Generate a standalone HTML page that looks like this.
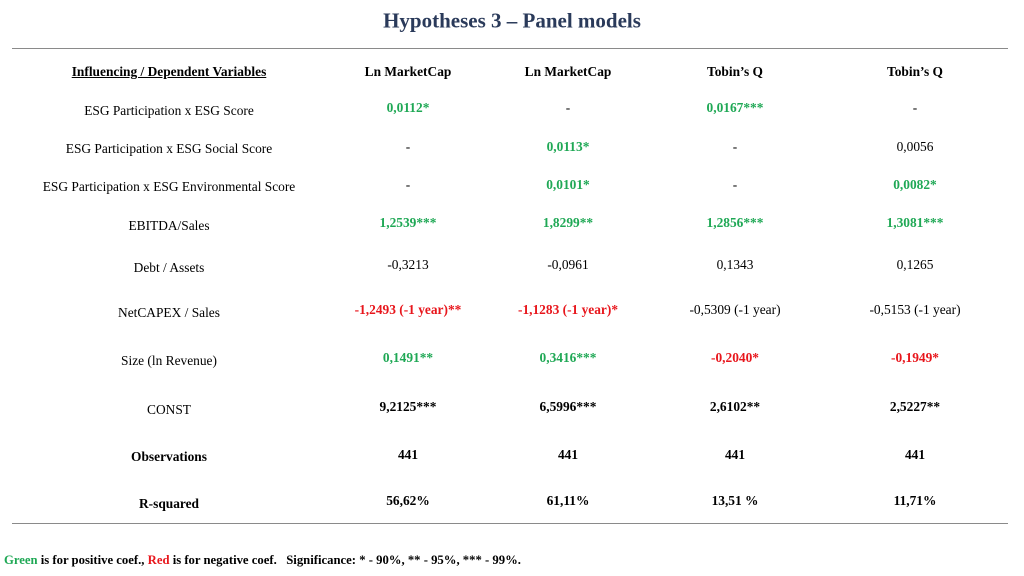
<!DOCTYPE html>
<html><head><meta charset="utf-8">
<style>
body{margin:0;width:1024px;height:576px;background:#fff;position:relative;overflow:hidden;font-family:"Liberation Serif",serif;color:#000}
.t{position:absolute;transform:translate(-50%,-50%);white-space:nowrap;font-size:13.4px}
.b{font-weight:bold}
.g{color:#1fa855}.r{color:#e8161c}
.line{position:absolute;left:12px;width:996px;height:1px;background:#8a8a8a}
</style></head><body>
<div class="t b" style="left:512px;top:21px;font-size:21px;color:#2a3a5a">Hypotheses 3 – Panel models</div>
<div class="line" style="top:48px"></div>
<div class="line" style="top:523px"></div>
<div style="position:absolute;left:4px;top:553px;font-size:12.7px;font-weight:bold;white-space:nowrap"><span class="g">Green</span> is for positive coef., <span class="r">Red</span> is for negative coef.&nbsp;&nbsp; Significance: * - 90%, ** - 95%, *** - 99%.</div>
<div id="tbl"></div>
<script>
const colX=[169,408,568,735,915];
const headers=["Influencing / Dependent Variables","Ln MarketCap","Ln MarketCap","Tobin’s Q","Tobin’s Q"];
const rowLabels=["ESG Participation x ESG Score","ESG Participation x ESG Social Score","ESG Participation x ESG Environmental Score","EBITDA/Sales","Debt / Assets","NetCAPEX / Sales","Size (ln Revenue)","CONST","Observations","R-squared"];
const labelY=[111,149,187,226,268,313,361,410,457,504];
const valueY=[108,147,185,223,265,310,358,407,455,501];
const values=[
["0,0112*","-","0,0167***","-"],
["-","0,0113*","-","0,0056"],
["-","0,0101*","-","0,0082*"],
["1,2539***","1,8299**","1,2856***","1,3081***"],
["-0,3213","-0,0961","0,1343","0,1265"],
["-1,2493 (-1 year)**","-1,1283 (-1 year)*","-0,5309 (-1 year)","-0,5153 (-1 year)"],
["0,1491**","0,3416***","-0,2040*","-0,1949*"],
["9,2125***","6,5996***","2,6102**","2,5227**"],
["441","441","441","441"],
["56,62%","61,11%","13,51 %","11,71%"]];
const styles=[
["g","","g",""],
["","g","",""],
["","g","","g"],
["g","g","g","g"],
["","","",""],
["r","r","",""],
["g","g","r","r"],
["b","b","b","b"],
["b","b","b","b"],
["b","b","b","b"]];
const tbl=document.getElementById('tbl');
function add(text,x,y,cls,name){
  const d=document.createElement('div');
  d.className='t '+cls;
  d.textContent=text;
  d.style.left=x+'px';d.style.top=y+'px';
  
  
  tbl.appendChild(d);
  return d;
}
headers.forEach((h,i)=>{
  const d=add(h,colX[i],72,'b','header-'+i);
  if(i===0)d.style.textDecoration='underline';
});
rowLabels.forEach((l,r)=>{
  add(l,colX[0],labelY[r],r>=8?'b':'','row-label-'+r);
  values[r].forEach((v,c)=>{
    const s=styles[r][c];
    add(v,colX[c+1],valueY[r],s?(s==='b'?'b':'b '+s):'','cell-r'+r+'-c'+c);
  });
});
</script>
</body></html>
